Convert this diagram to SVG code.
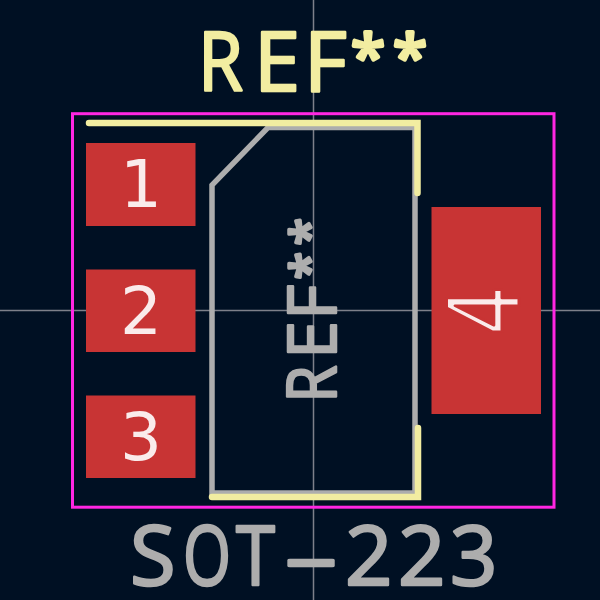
<svg xmlns="http://www.w3.org/2000/svg" width="600" height="600" viewBox="0 0 600 600">
<style>
.cross{stroke:#7d808a;stroke-width:1.5;fill:none}
.court{stroke:#ff26e2;stroke-width:3;fill:none}
.fab{stroke:#adadad;stroke-width:5.500;fill:none;stroke-linejoin:miter}
.silk{stroke:#f2eda1;stroke-width:6.500;fill:none;stroke-linecap:round;stroke-linejoin:miter}
.pad{fill:#c83434}
text{font-family:"Open Sans",sans-serif;stroke-linejoin:round}
.num{font-family:"DejaVu Sans",sans-serif;font-size:66px;fill:#fff;fill-opacity:.9;text-anchor:middle}
.y{fill:#f2eda1;stroke:#f2eda1;stroke-width:2.500}
.g{fill:#adadad;stroke:#adadad;stroke-width:2.500}
</style>
<rect width="600" height="600" fill="#001023"/>
<g id="crosshair"><path class="cross" d="M313.5 0V600M0 310.5H600"/></g>
<g id="courtyard"><rect class="court" x="72.5" y="113.7" width="481.5" height="393.5"/></g>
<g id="fab"><path class="fab" d="M415 127.500H268L212 185V493H415Z"/></g>
<g id="silk"><path class="silk" d="M89 123H417.500V193"/><path class="silk" d="M212 497H418V428"/></g>
<g id="pad1"><rect class="pad" x="86" y="143" width="109.500" height="83"/><text class="num" x="141" y="207">1</text></g>
<g id="pad2"><rect class="pad" x="86" y="269.500" width="109.500" height="82.500"/><text class="num" x="141" y="334">2</text></g>
<g id="pad3"><rect class="pad" x="86" y="395.500" width="109.500" height="82.500"/><text class="num" x="141" y="460">3</text></g>
<g id="pad4"><rect class="pad" x="431.500" y="207" width="109.500" height="207"/><text class="num" style="font-size:100px;stroke:#c83434;stroke-width:3" transform="translate(519 310.500) rotate(-90)" x="0" y="0" textLength="50" lengthAdjust="spacingAndGlyphs">4</text></g>
<g id="ref-top"><text class="y" y="90.500" font-size="83"><tspan x="198" textLength="45" lengthAdjust="spacingAndGlyphs">R</tspan><tspan x="254">E</tspan><tspan x="304">F</tspan><tspan x="351 393" y="79" font-size="62" stroke-width="4">**</tspan></text></g>
<g id="ref-fab"><text class="g" transform="translate(336 397.500) rotate(-90)" font-size="67"><tspan x="-5" textLength="37" lengthAdjust="spacingAndGlyphs">R</tspan><tspan x="39">E</tspan><tspan x="78">F</tspan><tspan x="118 152" y="-9" font-size="50" stroke-width="3.500">**</tspan></text></g>
<g id="value"><text class="g" y="584.500" font-size="83"><tspan x="130">S</tspan><tspan x="183" textLength="48" lengthAdjust="spacingAndGlyphs">O</tspan><tspan x="236" textLength="39" lengthAdjust="spacingAndGlyphs">T</tspan><tspan x="283" textLength="56" lengthAdjust="spacingAndGlyphs">-</tspan><tspan x="345 398 450">223</tspan></text></g>
</svg>
